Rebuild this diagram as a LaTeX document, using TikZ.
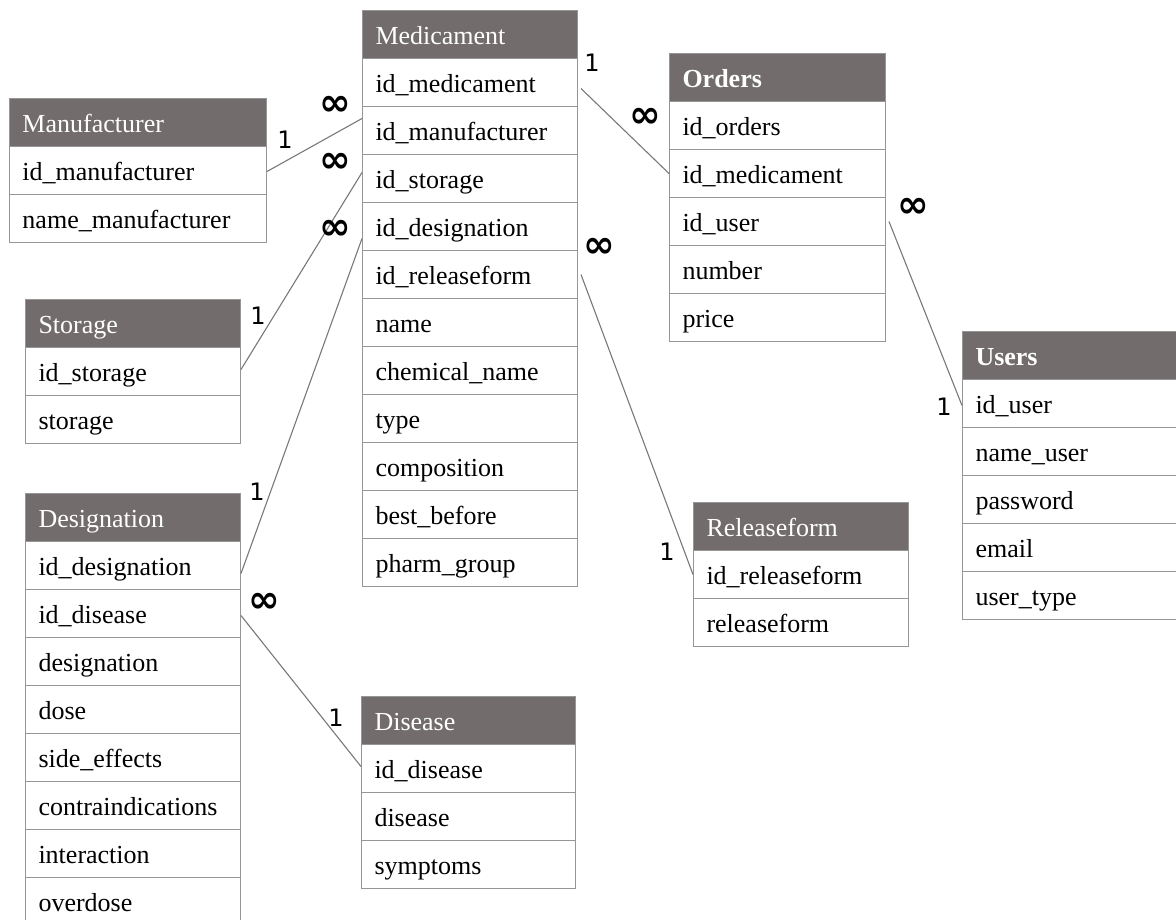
\documentclass[tikz,border=0pt]{standalone}
\usepackage{fontspec}
\setmainfont{Liberation Serif}
\newfontfamily\lblfont{DejaVu Sans}
\usetikzlibrary{calc}
\definecolor{hdrgray}{RGB}{114,109,108}
\definecolor{boxline}{RGB}{150,150,150}
\definecolor{conline}{RGB}{120,120,120}
\tikzset{
  cellbase/.style={draw=boxline, line width=1pt, minimum height=48pt, inner ysep=0pt,
    inner xsep=13pt, text height=24pt, text depth=4pt, align=left,
    font=\fontsize{26}{30}\selectfont},
  hdr/.style={cellbase, fill=hdrgray, text=white},
  rowbox/.style={cellbase, fill=white, text=black},
  con/.style={draw=conline, line width=1.1pt},
  onelbl/.style={font=\lblfont\fontsize{24}{28}\selectfont, inner sep=0pt},
  manylbl/.style={font=\lblfont\bfseries\fontsize{38}{40}\selectfont, inner sep=0pt}
}
\newcommand{\ertable}[6]{%
  \pgfmathsetmacro{\tabtw}{#4-26}%
  \node[hdr, minimum width=#4pt, text width=\tabtw pt, anchor=north west] (#1-h) at (#2,#3) {#5};
  \foreach \fld [count=\i] in {#6} {
    \node[rowbox, minimum width=#4pt, text width=\tabtw pt, anchor=north west] (#1-\i) at (#2,{#3+48*\i}) {\fld};
  }%
}
\begin{document}
\begin{tikzpicture}[x=1pt,y=-1pt]
\useasboundingbox (0,0) rectangle (1176,919);
\clip (0,0) rectangle (1176,919);

\ertable{man}{9}{98}{257}{Manufacturer}{id\_manufacturer,name\_manufacturer}
\ertable{med}{362}{10}{215}{Medicament}{id\_medicament,id\_manufacturer,id\_storage,id\_designation,id\_releaseform,name,chemical\_name,type,composition,best\_before,pharm\_group}
\ertable{ord}{669}{53}{216}{\textbf{Orders}}{id\_orders,id\_medicament,id\_user,number,price}
\ertable{usr}{962}{331}{240}{\textbf{Users}}{id\_user,name\_user,password,email,user\_type}
\ertable{sto}{25}{299}{215}{Storage}{id\_storage,storage}
\ertable{des}{25}{493}{215}{Designation}{id\_designation,id\_disease,designation,dose,side\_effects,contraindications,interaction,overdose}
\ertable{rel}{693}{502}{215}{Releaseform}{id\_releaseform,releaseform}
\ertable{dis}{361}{696}{214}{Disease}{id\_disease,disease,symptoms}

% connectors
\draw[con] ([yshift=-1pt]man-1.east) -- ([yshift=12pt]med-2.west);
\draw[con] ([yshift=2pt]sto-1.east) -- ([yshift=6pt]med-3.west);
\draw[con] ([yshift=-8pt]des-1.east) -- ([yshift=-12pt]med-4.west);
\draw[con] ([xshift=3pt]med-5.east) -- (rel-1.west);
\draw[con] ([xshift=3pt,yshift=-6pt]med-1.east) -- (ord-2.west);
\draw[con] ([xshift=3pt]ord-3.east) -- ([yshift=-2pt]usr-1.west);
\draw[con] ([yshift=-2pt]des-2.east) -- ([yshift=2pt]dis-1.west);

% cardinality labels
\node[onelbl] (l1a) at (285,140) {1};
\node[manylbl] (l1b) at (335,106) {∞};
\node[manylbl] (l2a) at (335,163) {∞};
\node[onelbl] (l2b) at (258,316) {1};
\node[manylbl] (l3a) at (335,230) {∞};
\node[onelbl] (l3b) at (257,492) {1};
\node[manylbl] (l4a) at (599,248) {∞};
\node[onelbl] (l4b) at (667,552) {1};
\node[onelbl] (l5a) at (592,63) {1};
\node[manylbl] (l5b) at (645,118) {∞};
\node[manylbl] (l6a) at (913,208) {∞};
\node[onelbl] (l6b) at (944,407) {1};
\node[manylbl] (l7a) at (264,603) {∞};
\node[onelbl] (l7b) at (336,718) {1};
\end{tikzpicture}
\end{document}
